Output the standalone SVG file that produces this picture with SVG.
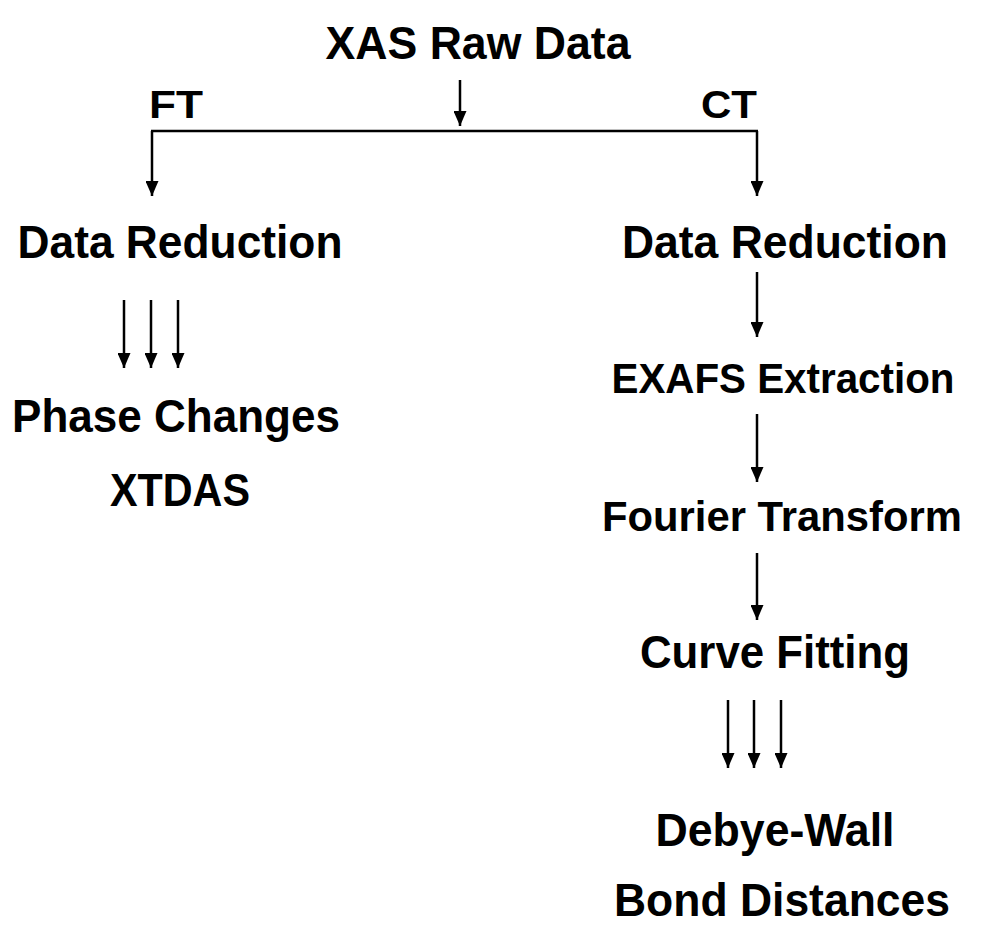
<svg xmlns="http://www.w3.org/2000/svg" width="993" height="931" viewBox="0 0 993 931">
<style>
text{font-family:"Liberation Sans",Arial,sans-serif;font-weight:bold;fill:#000;text-anchor:middle}
.t{font-size:46px}
.n{font-size:42px}
.s{font-size:38px}
.c{stroke:#000;stroke-width:2.5;fill:none}
</style>
<defs>
<marker id="ah" viewBox="0 0 15 13" refX="15" refY="6.5" markerWidth="15" markerHeight="13" markerUnits="userSpaceOnUse" orient="auto">
<path d="M0,0 L15,6.5 L0,13 Z" fill="#000"/>
</marker>
</defs>
<rect width="993" height="931" fill="#fff"/>
<g id="connectors">
<line class="c" x1="460" y1="80" x2="460" y2="126" marker-end="url(#ah)"/>
<line class="c" x1="151" y1="131" x2="758" y2="131"/>
<line class="c" x1="152" y1="131" x2="152" y2="196" marker-end="url(#ah)"/>
<line class="c" x1="757" y1="131" x2="757" y2="196" marker-end="url(#ah)"/>
<line class="c" x1="124" y1="300" x2="124" y2="368" marker-end="url(#ah)"/>
<line class="c" x1="151" y1="300" x2="151" y2="368" marker-end="url(#ah)"/>
<line class="c" x1="178" y1="300" x2="178" y2="368" marker-end="url(#ah)"/>
<line class="c" x1="757" y1="272" x2="757" y2="337" marker-end="url(#ah)"/>
<line class="c" x1="757" y1="414" x2="757" y2="482" marker-end="url(#ah)"/>
<line class="c" x1="757" y1="553" x2="757" y2="620" marker-end="url(#ah)"/>
<line class="c" x1="728" y1="700" x2="728" y2="768" marker-end="url(#ah)"/>
<line class="c" x1="754" y1="700" x2="754" y2="768" marker-end="url(#ah)"/>
<line class="c" x1="781" y1="700" x2="781" y2="768" marker-end="url(#ah)"/>
</g>
<g id="xas"><text class="t" x="478" y="59" textLength="305" lengthAdjust="spacingAndGlyphs">XAS Raw Data</text></g>
<g id="ft"><text class="s" x="176" y="118" textLength="54" lengthAdjust="spacingAndGlyphs">FT</text></g>
<g id="ct"><text class="s" x="729" y="118" textLength="56" lengthAdjust="spacingAndGlyphs">CT</text></g>
<g id="dr-left"><text class="t" x="180" y="258" textLength="325" lengthAdjust="spacingAndGlyphs">Data Reduction</text></g>
<g id="phase"><text class="t" x="176" y="432" textLength="328" lengthAdjust="spacingAndGlyphs">Phase Changes</text></g>
<g id="xtdas"><text class="t" x="180" y="506" textLength="140" lengthAdjust="spacingAndGlyphs">XTDAS</text></g>
<g id="dr-right"><text class="t" x="785" y="258" textLength="326" lengthAdjust="spacingAndGlyphs">Data Reduction</text></g>
<g id="exafs"><text class="n" x="783" y="393" textLength="343" lengthAdjust="spacingAndGlyphs">EXAFS Extraction</text></g>
<g id="fourier"><text class="n" x="782" y="531" textLength="360" lengthAdjust="spacingAndGlyphs">Fourier Transform</text></g>
<g id="curve"><text class="t" x="775" y="668" textLength="270" lengthAdjust="spacingAndGlyphs">Curve Fitting</text></g>
<g id="debye"><text class="t" x="775" y="846" textLength="239" lengthAdjust="spacingAndGlyphs">Debye-Wall</text></g>
<g id="bond"><text class="t" x="782" y="916" textLength="336" lengthAdjust="spacingAndGlyphs">Bond Distances</text></g>
</svg>
